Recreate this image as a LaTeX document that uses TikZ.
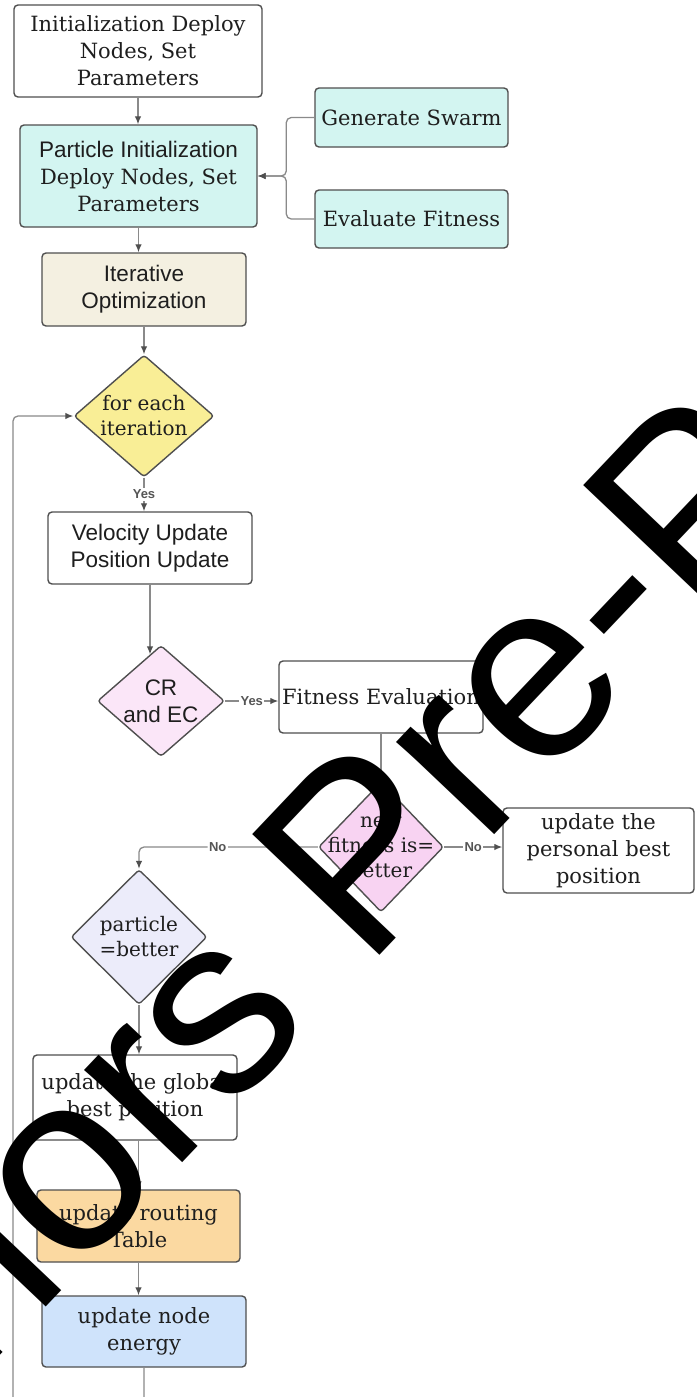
\documentclass[tikz,border=0pt]{standalone}
\usepackage{fontspec}
\setmainfont{DejaVu Serif}
\setsansfont{Liberation Sans}
\usepackage{tikz}
\usepackage{xcolor}
\usetikzlibrary{shapes.geometric, arrows.meta}
\definecolor{FontColor}{HTML}{1E1E1E}
\definecolor{BorderGray}{HTML}{4F4F4F}
\definecolor{LineGray}{HTML}{8A8A8A}
\definecolor{LabelGray}{HTML}{555555}
\definecolor{TealNC}{HTML}{D3F5F1}
\definecolor{SandNC}{HTML}{F4F0E1}
\definecolor{YellowNC}{HTML}{F9EE96}
\definecolor{PinkNC}{HTML}{FBE6F8}
\definecolor{RoseNC}{HTML}{F8D3F2}
\definecolor{LilacNC}{HTML}{ECECFA}
\definecolor{OrangeNC}{HTML}{FBD9A1}
\definecolor{BlueNC}{HTML}{CFE3FB}
\newcommand\nodeinit{Initialization Deploy\\Nodes, Set\\Parameters}
\newcommand\nodepinit{{\fontsize{22.5}{28}\sffamily Particle Initialization}\\Deploy Nodes, Set\\Parameters}
\newcommand\nodegs{Generate Swarm}
\newcommand\nodeef{Evaluate Fitness}
\newcommand\nodeio{Iterative\\Optimization}
\newcommand\nodefe{for each\\iteration}
\newcommand\nodevu{Velocity Update\\Position Update}
\newcommand\nodecr{CR\\and EC}
\newcommand\nodefit{Fitness Evaluation}
\newcommand\nodenf{new\\fitness is=\\better}
\newcommand\nodepbest{update the\\personal best\\position}
\newcommand\nodepc{particle\\=better}
\newcommand\nodegbest{update the global\\best position}
\newcommand\nodert{update routing\\Table}
\newcommand\nodene{update node\\energy}
\tikzstyle{boxstyle} = [rectangle, rounded corners=4pt, draw=BorderGray, line width=1.4pt, text=FontColor, align=center, inner sep=1pt, font=\fontsize{21}{27}\selectfont]
\tikzstyle{sf} = [font=\fontsize{22.5}{27}\sffamily]
\tikzstyle{wn} = [boxstyle, fill=white]
\tikzstyle{tn} = [boxstyle, fill=TealNC]
\tikzstyle{dn} = [diamond, rounded corners=3pt, draw=BorderGray, line width=1.4pt, inner sep=0pt]
\tikzstyle{dtxt} = [align=center, text=FontColor, inner sep=0pt, font=\fontsize{20}{25}\selectfont]
\tikzstyle{dsf} = [dtxt, font=\fontsize{22.5}{27}\sffamily]
\tikzstyle{lbl} = [font=\fontsize{13}{13}\sffamily\bfseries, text=LabelGray, fill=white, inner sep=1.5pt]
\tikzset{>={Latex[length=8pt,width=6.5pt,color=BorderGray]}, every picture/.style={line width=1.3pt}}

\begin{document}
\begin{tikzpicture}[x=1pt, y=-1pt]
\useasboundingbox[fill=white] (0, 0) rectangle (696, 1397);
\node[wn, minimum width=248pt, minimum height=92pt] (init) at (138, 51) {\nodeinit};
\node[tn, minimum width=237pt, minimum height=102pt] (pinit) at (138.5, 176) {\nodepinit};
\node[tn, minimum width=193pt, minimum height=59pt] (gs) at (411.5, 117.5) {\nodegs};
\node[tn, minimum width=193pt, minimum height=58pt] (ef) at (411.5, 219) {\nodeef};
\node[boxstyle, sf, fill=SandNC, minimum width=204pt, minimum height=73pt] (io) at (144, 289.5) {\nodeio};
\node[dn, fill=YellowNC, minimum width=140pt, minimum height=122pt, label={[dtxt]center:\nodefe}] (fe) at (144, 416) {};
\node[wn, sf, minimum width=204pt, minimum height=72pt] (vu) at (150, 548) {\nodevu};
\node[dn, fill=PinkNC, minimum width=127pt, minimum height=111pt, label={[dsf]center:\nodecr}] (cr) at (161, 701) {};
\node[wn, minimum width=204pt, minimum height=72pt] (fit) at (381, 697) {\nodefit};
\node[dn, fill=RoseNC, minimum width=125pt, minimum height=130pt, label={[dtxt]center:\nodenf}] (nf) at (381, 847) {};
\node[wn, minimum width=191pt, minimum height=85pt] (pbest) at (598.5, 850.5) {\nodepbest};
\node[dn, fill=LilacNC, minimum width=136pt, minimum height=135pt, label={[dtxt]center:\nodepc}] (pc) at (139, 937) {};
\node[wn, minimum width=204pt, minimum height=85pt] (gbest) at (135, 1097.5) {\nodegbest};
\node[boxstyle, fill=OrangeNC, minimum width=203pt, minimum height=72pt] (rt) at (138.5, 1226) {\nodert};
\node[boxstyle, fill=BlueNC, minimum width=204pt, minimum height=71pt] (ne) at (144, 1331.5) {\nodene};
\coordinate (back) at (13, 1430);
\begin{scope}[draw=LineGray]
\draw [->] (init.south) -- (init.south |- pinit.north);
\draw [->] (pinit.south) -- (pinit.south |- io.north);
\draw [->, rounded corners=5pt] (gs.west) -- ++(-28, 0) |- (pinit.east);
\draw [->, rounded corners=5pt] (ef.west) -- ++(-28, 0) |- (pinit.east);
\draw [->] (io.south) -- (fe.north);
\draw [->] (fe.south) -- node[lbl] {Yes} (fe.south |- vu.north);
\draw [->] (vu.south) -- ([xshift=-11pt, yshift=-9.6pt]cr.north);
\draw [->] (cr.east) -- node[lbl] {Yes} (cr.east -| fit.west);
\draw [->] (fit.south) -- (nf.north);
\draw [->] (nf.east) -- node[lbl] {No} (nf.east -| pbest.west);
\draw [->, rounded corners=5pt] (nf.west) -| node[lbl, pos=0.28] {No} (pc.north);
\draw [->] (pc.south) -- (pc.south |- gbest.north);
\draw [->] (rt.north |- gbest.south) -- (rt.north);
\draw [->] (rt.south) -- (rt.south |- ne.north);
\draw [->, rounded corners=5pt] (ne.south) |- (back) |- (fe.west);
\end{scope}
\node[rotate=46.5, anchor=base, font=\fontsize{255}{255}\sffamily] (wm) at (414, 919) {Authors Pre-Proof};
\end{tikzpicture}
\end{document}
